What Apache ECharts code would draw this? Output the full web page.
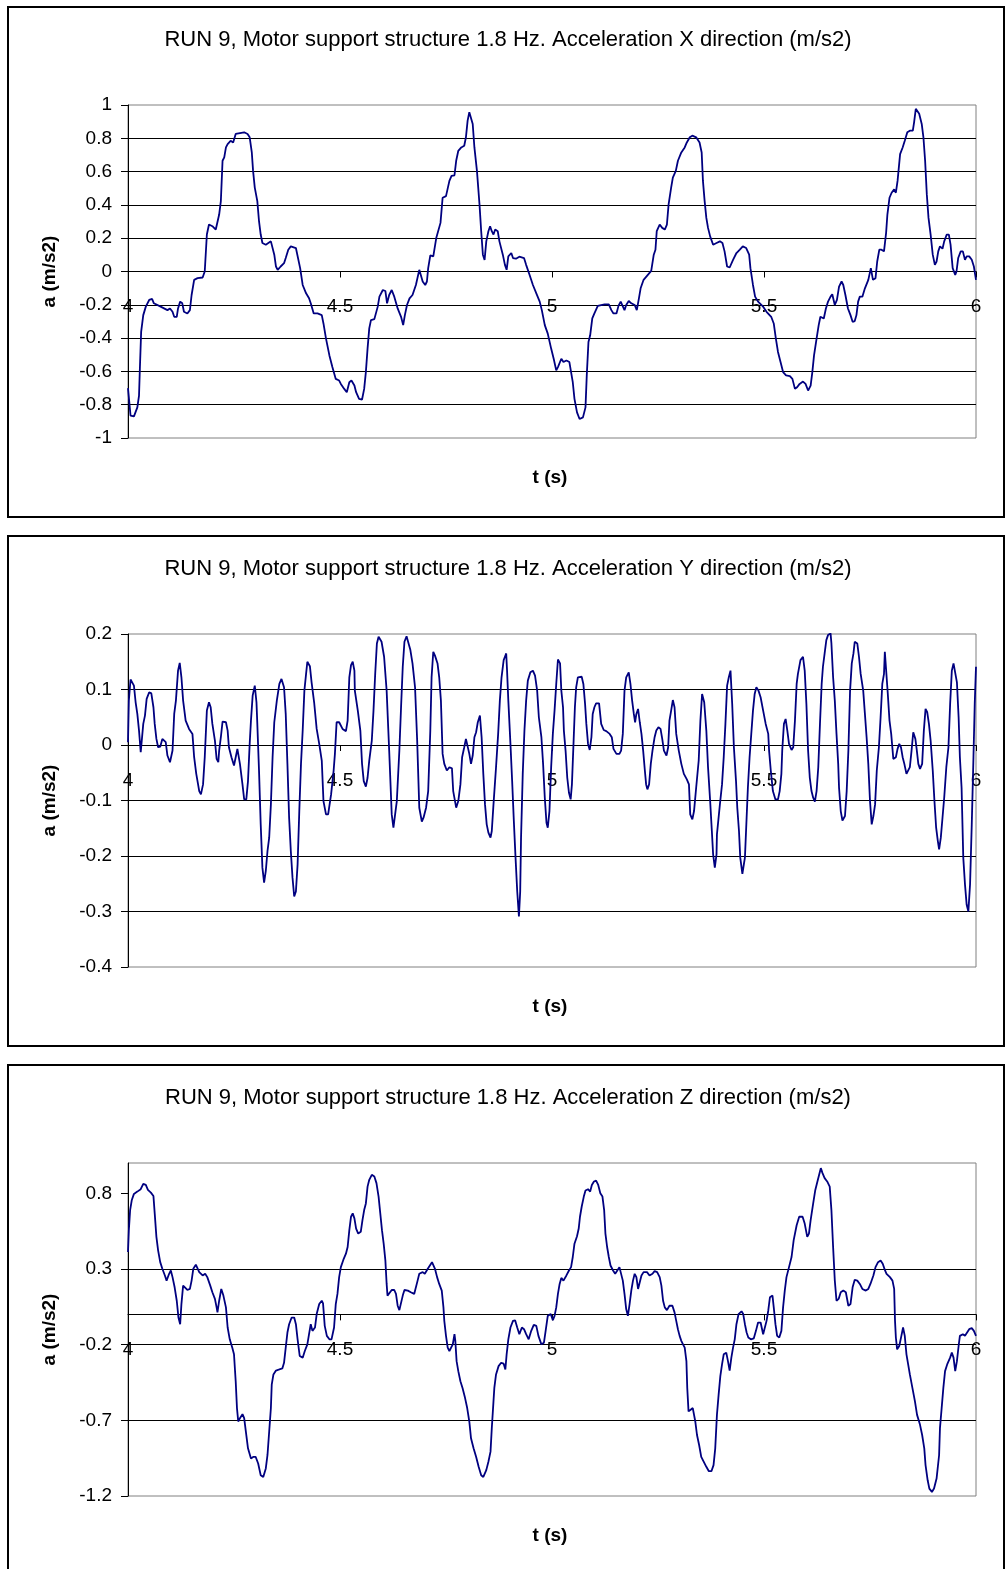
<!DOCTYPE html>
<html>
<head>
<meta charset="utf-8">
<script src="https://cdn.jsdelivr.net/npm/echarts@6/dist/echarts.min.js"></script>
<style>
html,body{margin:0;padding:0;background:#fff;}
#c{width:1005px;height:1569px;}
</style>
</head>
<body>
<div id="c"></div>
<script>
// ---- data: [time (s), acceleration (m/s2)] ----
const accX = [
[4.000,-0.70],[4.006,-0.866],[4.014,-0.870],[4.022,-0.816],[4.026,-0.745],[4.028,-0.584],[4.031,-0.363],[4.036,-0.262],[4.042,-0.211],[4.050,-0.171],[4.057,-0.165],[4.061,-0.191],[4.077,-0.211],[4.093,-0.232],[4.099,-0.222],[4.105,-0.242],[4.109,-0.272],[4.115,-0.272],[4.118,-0.222],[4.123,-0.181],[4.128,-0.191],[4.132,-0.242],[4.140,-0.252],[4.146,-0.232],[4.150,-0.141],[4.156,-0.050],[4.164,-0.040],[4.176,-0.036],[4.181,0.000],[4.186,0.222],[4.191,0.282],[4.199,0.272],[4.207,0.252],[4.211,0.262],[4.215,0.342],[4.219,0.423],[4.223,0.665],[4.227,0.685],[4.231,0.745],[4.235,0.765],[4.242,0.785],[4.248,0.775],[4.250,0.765],[4.254,0.826],[4.258,0.836],[4.274,0.836],[4.282,0.826],[4.287,0.806],[4.292,0.715],[4.295,0.604],[4.299,0.504],[4.305,0.423],[4.309,0.302],[4.313,0.222],[4.317,0.171],[4.325,0.161],[4.337,0.181],[4.341,0.187],[4.345,0.101],[4.349,0.030],[4.353,0.010],[4.360,0.030],[4.368,0.050],[4.372,0.081],[4.378,0.131],[4.384,0.151],[4.396,0.141],[4.400,0.131],[4.406,0.020],[4.412,-0.081],[4.420,-0.131],[4.427,-0.161],[4.431,-0.191],[4.438,-0.252],[4.447,-0.252],[4.457,-0.262],[4.461,-0.312],[4.467,-0.403],[4.475,-0.504],[4.482,-0.574],[4.490,-0.645],[4.498,-0.655],
[4.502,-0.675],[4.510,-0.705],[4.516,-0.725],[4.522,-0.665],[4.527,-0.655],[4.534,-0.685],[4.538,-0.725],[4.545,-0.765],[4.552,-0.769],[4.557,-0.705],[4.561,-0.604],[4.565,-0.463],[4.569,-0.342],[4.573,-0.292],[4.581,-0.286],[4.589,-0.211],[4.593,-0.151],[4.601,-0.111],[4.607,-0.117],[4.611,-0.191],[4.616,-0.141],[4.622,-0.111],[4.628,-0.151],[4.636,-0.222],[4.644,-0.272],[4.649,-0.322],[4.653,-0.262],[4.658,-0.201],[4.664,-0.161],[4.671,-0.141],[4.679,-0.081],[4.687,0.010],[4.691,0.020],[4.695,-0.060],[4.701,-0.081],[4.705,-0.060],[4.708,0.020],[4.713,0.097],[4.720,0.091],[4.727,0.201],[4.737,0.292],[4.742,0.443],[4.750,0.453],[4.754,0.463],[4.758,0.544],[4.763,0.574],[4.770,0.578],[4.774,0.665],[4.779,0.725],[4.786,0.745],[4.793,0.755],[4.797,0.806],[4.801,0.906],[4.805,0.957],[4.809,0.957],[4.813,0.886],[4.817,0.745],[4.823,0.604],[4.829,0.403],[4.833,0.242],[4.837,0.101],[4.841,0.070],[4.845,0.181],[4.850,0.242],[4.854,0.272],[4.858,0.242],[4.862,0.222],[4.866,0.252],[4.872,0.242],[4.876,0.181],[4.884,0.101],[4.889,0.040],[4.893,0.010],[4.897,0.091],[4.904,0.111],[4.908,0.081],[4.915,0.077],[4.923,0.089],[4.934,0.081],[4.939,0.040],[4.947,-0.020],[4.955,-0.081],[4.963,-0.131],[4.971,-0.181],[4.976,-0.232],[4.983,-0.322],[4.990,-0.373],[4.998,-0.463],
[5.004,-0.524],[5.010,-0.594],[5.014,-0.574],[5.022,-0.524],[5.027,-0.544],[5.034,-0.534],[5.041,-0.544],[5.045,-0.604],[5.049,-0.665],[5.053,-0.765],[5.059,-0.846],[5.065,-0.886],[5.073,-0.876],[5.079,-0.816],[5.082,-0.624],[5.086,-0.423],[5.090,-0.383],[5.095,-0.282],[5.100,-0.252],[5.108,-0.207],[5.112,-0.197],[5.124,-0.197],[5.134,-0.197],[5.140,-0.232],[5.145,-0.252],[5.152,-0.252],[5.157,-0.205],[5.162,-0.181],[5.166,-0.191],[5.171,-0.232],[5.175,-0.201],[5.181,-0.177],[5.187,-0.191],[5.195,-0.201],[5.200,-0.232],[5.205,-0.161],[5.209,-0.101],[5.216,-0.050],[5.226,-0.020],[5.234,0.004],[5.240,0.101],[5.244,0.131],[5.247,0.242],[5.254,0.282],[5.260,0.262],[5.266,0.252],[5.271,0.282],[5.275,0.403],[5.281,0.504],[5.285,0.564],[5.292,0.604],[5.297,0.665],[5.305,0.715],[5.313,0.745],[5.318,0.775],[5.325,0.806],[5.331,0.816],[5.340,0.806],[5.348,0.775],[5.353,0.715],[5.356,0.544],[5.360,0.423],[5.364,0.322],[5.368,0.262],[5.373,0.211],[5.380,0.161],[5.388,0.171],[5.396,0.181],[5.402,0.171],[5.407,0.121],[5.413,0.030],[5.419,0.024],[5.427,0.070],[5.435,0.111],[5.443,0.131],[5.450,0.151],[5.458,0.141],[5.465,0.101],[5.468,0.020],[5.474,-0.081],[5.479,-0.151],[5.486,-0.181],
[5.498,-0.211],[5.506,-0.242],[5.517,-0.272],[5.523,-0.312],[5.528,-0.403],[5.533,-0.483],[5.539,-0.544],[5.545,-0.604],[5.552,-0.624],[5.561,-0.628],[5.567,-0.645],[5.573,-0.705],[5.578,-0.695],[5.584,-0.675],[5.592,-0.661],[5.598,-0.675],[5.604,-0.715],[5.610,-0.685],[5.614,-0.604],[5.618,-0.504],[5.624,-0.403],[5.629,-0.322],[5.633,-0.272],[5.641,-0.282],[5.646,-0.222],[5.651,-0.181],[5.657,-0.151],[5.661,-0.137],[5.667,-0.201],[5.672,-0.171],[5.677,-0.091],[5.683,-0.060],[5.687,-0.081],[5.692,-0.141],[5.698,-0.222],[5.704,-0.262],[5.709,-0.302],[5.714,-0.298],[5.718,-0.262],[5.722,-0.181],[5.726,-0.151],[5.732,-0.151],[5.738,-0.101],[5.746,-0.050],[5.752,0.020],[5.757,-0.050],[5.763,-0.040],[5.767,0.060],[5.772,0.131],[5.777,0.131],[5.783,0.121],[5.788,0.232],[5.791,0.342],[5.796,0.443],[5.801,0.473],[5.807,0.493],[5.811,0.473],[5.815,0.544],[5.821,0.705],[5.827,0.745],[5.832,0.785],[5.838,0.836],[5.844,0.846],[5.851,0.846],[5.854,0.896],[5.858,0.977],[5.862,0.983],[5.866,0.947],[5.872,0.886],[5.876,0.806],[5.880,0.665],[5.884,0.463],[5.888,0.322],[5.893,0.222],[5.898,0.101],[5.903,0.040],[5.907,0.060],[5.911,0.121],[5.915,0.151],[5.921,0.137],[5.925,0.181],[5.931,0.222],[5.936,0.222],[5.940,0.161],[5.945,0.020],[5.951,-0.020],[5.954,0.000],[5.958,0.081],[5.964,0.121],[5.969,0.121],[5.974,0.070],[5.978,0.091],[5.984,0.091],[5.990,0.070],[5.995,0.030],[6.000,-0.050]
];
const accY = [
[4.000,0.005],[4.002,0.080],[4.006,0.118],[4.010,0.116],[4.014,0.107],[4.018,0.077],[4.022,0.056],[4.026,0.026],[4.030,-0.013],[4.032,-0.016],[4.036,0.038],[4.040,0.053],[4.044,0.083],[4.050,0.095],[4.055,0.093],[4.060,0.068],[4.063,0.038],[4.067,0.011],[4.071,-0.004],[4.076,-0.003],[4.081,0.011],[4.085,0.012],[4.089,0.005],[4.093,-0.019],[4.099,-0.031],[4.105,-0.010],[4.109,0.056],[4.113,0.080],[4.118,0.134],[4.122,0.148],[4.126,0.122],[4.130,0.080],[4.136,0.044],[4.144,0.029],[4.152,0.020],[4.156,-0.022],[4.161,-0.052],[4.168,-0.083],[4.172,-0.089],[4.177,-0.071],[4.181,-0.022],[4.186,0.062],[4.191,0.077],[4.195,0.068],[4.199,0.038],[4.205,0.008],[4.209,-0.025],[4.213,-0.031],[4.215,-0.010],[4.219,0.014],[4.223,0.042],[4.231,0.041],[4.235,0.026],[4.238,-0.004],[4.244,-0.022],[4.250,-0.037],[4.254,-0.022],[4.258,-0.007],[4.262,-0.009],[4.264,-0.034],[4.270,-0.071],[4.274,-0.098],[4.279,-0.098],[4.283,-0.065],[4.287,0.002],[4.290,0.044],[4.294,0.089],[4.299,0.107],[4.303,0.077],[4.305,0.038],[4.309,-0.046],[4.313,-0.143],[4.317,-0.221],[4.321,-0.248],[4.325,-0.227],[4.329,-0.191],[4.333,-0.167],[4.337,-0.107],[4.341,-0.022],[4.345,0.041],[4.351,0.080],[4.357,0.110],[4.362,0.119],[4.368,0.104],[4.372,0.056],[4.376,-0.034],[4.380,-0.131],[4.384,-0.191],[4.388,-0.239],[4.392,-0.273],[4.396,-0.264],[4.400,-0.215],[4.404,-0.119],[4.408,-0.034],[4.412,0.026],[4.416,0.098],[4.420,0.128],[4.423,0.150],[4.429,0.142],[4.433,0.113],[4.439,0.077],[4.445,0.029],[4.451,0.002],[4.457,-0.028],[4.461,-0.101],[4.467,-0.125],[4.472,-0.125],[4.479,-0.089],[4.485,-0.046],[4.488,-0.016],[4.492,0.041],[4.498,0.041],
[4.501,0.038],[4.506,0.029],[4.514,0.025],[4.518,0.044],[4.522,0.122],[4.526,0.144],[4.530,0.150],[4.534,0.134],[4.535,0.098],[4.542,0.062],[4.548,0.026],[4.552,-0.034],[4.556,-0.065],[4.561,-0.075],[4.565,-0.059],[4.569,-0.028],[4.575,0.008],[4.579,0.062],[4.583,0.128],[4.587,0.183],[4.591,0.195],[4.594,0.198],[4.598,0.186],[4.604,0.159],[4.610,0.098],[4.616,-0.010],[4.622,-0.125],[4.626,-0.149],[4.630,-0.149],[4.634,-0.101],[4.640,-0.010],[4.644,0.068],[4.648,0.141],[4.652,0.186],[4.657,0.196],[4.661,0.195],[4.666,0.171],[4.671,0.147],[4.677,0.104],[4.682,0.008],[4.687,-0.113],[4.693,-0.138],[4.697,-0.131],[4.703,-0.113],[4.708,-0.083],[4.713,0.026],[4.716,0.122],[4.720,0.168],[4.724,0.161],[4.730,0.147],[4.734,0.122],[4.738,0.080],[4.742,-0.016],[4.746,-0.034],[4.752,-0.046],[4.758,-0.040],[4.764,-0.042],[4.767,-0.083],[4.774,-0.113],[4.779,-0.101],[4.784,-0.071],[4.788,-0.022],[4.793,-0.004],[4.797,0.011],[4.801,0.011],[4.805,-0.016],[4.809,-0.034],[4.813,-0.019],[4.817,0.014],[4.821,0.023],[4.825,0.041],[4.830,0.053],[4.834,0.014],[4.838,-0.052],[4.842,-0.107],[4.846,-0.143],[4.850,-0.158],[4.855,-0.167],[4.858,-0.155],[4.862,-0.107],[4.868,-0.040],[4.873,0.020],[4.877,0.080],[4.881,0.122],[4.886,0.153],[4.889,0.159],[4.892,0.165],[4.894,0.134],[4.897,0.080],[4.902,0.002],[4.906,-0.065],[4.910,-0.137],[4.914,-0.203],[4.918,-0.264],[4.922,-0.309],[4.925,-0.264],[4.927,-0.167],[4.931,-0.052],[4.935,0.026],[4.939,0.080],[4.943,0.116],[4.949,0.131],[4.955,0.134],[4.960,0.125],[4.965,0.098],[4.969,0.050],[4.975,0.014],[4.979,-0.034],[4.983,-0.095],[4.987,-0.140],[4.990,-0.149],[4.994,-0.119],[4.998,-0.040],
[5.002,0.020],[5.006,0.062],[5.010,0.110],[5.014,0.154],[5.019,0.147],[5.022,0.098],[5.026,0.068],[5.028,0.026],[5.032,-0.010],[5.036,-0.059],[5.040,-0.086],[5.044,-0.098],[5.047,-0.071],[5.051,0.008],[5.054,0.068],[5.057,0.104],[5.061,0.122],[5.065,0.125],[5.070,0.123],[5.074,0.110],[5.078,0.074],[5.081,0.038],[5.085,0.002],[5.089,-0.009],[5.093,0.014],[5.096,0.056],[5.100,0.068],[5.104,0.075],[5.111,0.075],[5.116,0.038],[5.122,0.027],[5.128,0.025],[5.136,0.020],[5.141,0.014],[5.145,-0.007],[5.152,-0.016],[5.159,-0.016],[5.163,-0.010],[5.167,0.020],[5.171,0.098],[5.175,0.122],[5.181,0.131],[5.185,0.110],[5.189,0.080],[5.193,0.056],[5.196,0.041],[5.199,0.056],[5.203,0.065],[5.207,0.041],[5.211,0.020],[5.215,-0.010],[5.219,-0.046],[5.222,-0.071],[5.225,-0.080],[5.229,-0.071],[5.233,-0.034],[5.237,-0.010],[5.242,0.014],[5.246,0.026],[5.251,0.032],[5.256,0.029],[5.260,0.011],[5.264,-0.010],[5.270,-0.019],[5.274,-0.004],[5.277,0.044],[5.281,0.062],[5.285,0.081],[5.289,0.068],[5.293,0.020],[5.299,-0.010],[5.305,-0.034],[5.311,-0.052],[5.318,-0.062],[5.323,-0.071],[5.326,-0.125],[5.331,-0.134],[5.335,-0.119],[5.340,-0.077],[5.346,-0.028],[5.350,0.044],[5.354,0.092],[5.359,0.077],[5.364,0.026],[5.368,-0.040],[5.373,-0.101],[5.377,-0.155],[5.380,-0.197],[5.384,-0.221],[5.388,-0.197],[5.389,-0.161],[5.396,-0.107],[5.401,-0.071],[5.405,-0.022],[5.409,0.038],[5.413,0.107],[5.417,0.122],[5.421,0.134],[5.425,0.074],[5.429,-0.004],[5.434,-0.065],[5.437,-0.113],[5.441,-0.155],[5.444,-0.203],[5.449,-0.232],[5.455,-0.203],[5.459,-0.131],[5.462,-0.077],[5.466,-0.022],[5.470,0.020],[5.474,0.062],[5.478,0.092],[5.482,0.104],[5.487,0.098],[5.492,0.086],
[5.498,0.062],[5.504,0.038],[5.510,0.020],[5.512,-0.010],[5.516,-0.046],[5.521,-0.083],[5.527,-0.098],[5.533,-0.098],[5.537,-0.083],[5.541,-0.052],[5.543,-0.010],[5.547,0.038],[5.551,0.047],[5.555,0.026],[5.559,0.002],[5.565,-0.009],[5.569,-0.004],[5.573,0.044],[5.577,0.110],[5.580,0.128],[5.586,0.153],[5.592,0.159],[5.596,0.134],[5.600,0.074],[5.604,-0.010],[5.608,-0.059],[5.612,-0.083],[5.616,-0.095],[5.620,-0.102],[5.624,-0.083],[5.628,-0.040],[5.632,0.038],[5.636,0.110],[5.639,0.141],[5.643,0.165],[5.647,0.189],[5.651,0.198],[5.657,0.201],[5.659,0.183],[5.663,0.122],[5.667,0.080],[5.671,0.020],[5.675,-0.034],[5.677,-0.077],[5.681,-0.119],[5.685,-0.136],[5.691,-0.128],[5.695,-0.083],[5.699,-0.010],[5.703,0.098],[5.707,0.147],[5.711,0.165],[5.714,0.186],[5.720,0.183],[5.724,0.159],[5.728,0.128],[5.734,0.098],[5.738,0.056],[5.742,0.014],[5.746,-0.034],[5.750,-0.101],[5.754,-0.143],[5.758,-0.128],[5.762,-0.107],[5.766,-0.046],[5.771,-0.004],[5.775,0.050],[5.779,0.110],[5.783,0.128],[5.785,0.168],[5.788,0.165],[5.792,0.092],[5.796,0.044],[5.800,0.020],[5.803,-0.007],[5.805,-0.025],[5.811,-0.022],[5.815,-0.007],[5.819,0.002],[5.823,-0.004],[5.827,-0.022],[5.831,-0.034],[5.836,-0.052],[5.840,-0.055],[5.844,-0.040],[5.848,-0.010],[5.852,0.023],[5.857,0.011],[5.860,-0.007],[5.864,-0.034],[5.868,-0.043],[5.873,-0.034],[5.877,0.026],[5.881,0.065],[5.885,0.059],[5.889,0.038],[5.893,0.008],[5.898,-0.046],[5.902,-0.101],[5.906,-0.149],[5.910,-0.173],[5.913,-0.188],[5.917,-0.167],[5.921,-0.131],[5.925,-0.095],[5.930,-0.040],[5.935,-0.004],[5.939,0.074],[5.943,0.134],[5.947,0.147],[5.951,0.150],[5.955,0.113],[5.959,0.050],[5.962,-0.022],[5.966,-0.077],[5.970,-0.203],[5.974,-0.251],[5.978,-0.288],[5.982,-0.300],[5.986,-0.251],[5.990,-0.143],[5.994,-0.022],[5.997,0.074],[6.000,0.141]
];
const accZ = [
[4.000,0.412],[4.002,0.556],[4.005,0.689],[4.009,0.756],[4.014,0.796],[4.022,0.811],[4.030,0.827],[4.036,0.862],[4.042,0.855],[4.047,0.822],[4.054,0.804],[4.060,0.782],[4.063,0.667],[4.067,0.512],[4.071,0.423],[4.076,0.345],[4.081,0.301],[4.087,0.257],[4.091,0.223],[4.097,0.268],[4.101,0.290],[4.105,0.246],[4.110,0.179],[4.115,0.090],[4.119,-0.021],[4.123,-0.065],[4.126,0.068],[4.130,0.190],[4.134,0.197],[4.140,0.161],[4.146,0.168],[4.150,0.223],[4.154,0.301],[4.160,0.328],[4.164,0.323],[4.168,0.279],[4.176,0.257],[4.182,0.268],[4.187,0.246],[4.194,0.190],[4.199,0.146],[4.205,0.102],[4.209,0.046],[4.211,0.013],[4.215,0.090],[4.220,0.168],[4.225,0.124],[4.231,0.046],[4.235,-0.087],[4.240,-0.165],[4.246,-0.220],[4.250,-0.264],[4.254,-0.442],[4.257,-0.619],[4.260,-0.708],[4.264,-0.686],[4.270,-0.659],[4.274,-0.686],[4.278,-0.774],[4.283,-0.885],[4.290,-0.952],[4.296,-0.941],[4.301,-0.941],[4.307,-0.985],[4.313,-1.063],[4.319,-1.074],[4.325,-1.018],[4.329,-0.929],[4.333,-0.774],[4.337,-0.619],[4.339,-0.464],[4.343,-0.397],[4.349,-0.371],[4.357,-0.364],[4.364,-0.357],[4.368,-0.320],[4.372,-0.220],[4.376,-0.120],[4.380,-0.065],[4.386,-0.021],[4.392,-0.021],[4.396,-0.065],[4.400,-0.165],[4.405,-0.275],[4.412,-0.286],[4.417,-0.242],[4.423,-0.198],[4.427,-0.131],[4.431,-0.065],[4.435,-0.109],[4.441,-0.087],[4.445,0.002],[4.451,0.068],[4.457,0.090],[4.460,0.073],[4.464,-0.076],[4.469,-0.142],[4.475,-0.165],[4.480,-0.165],[4.486,-0.087],[4.490,0.068],
[4.494,0.135],[4.498,0.246],[4.502,0.312],[4.508,0.361],[4.514,0.401],[4.518,0.445],[4.522,0.556],[4.526,0.645],[4.530,0.667],[4.534,0.634],[4.538,0.567],[4.543,0.534],[4.549,0.545],[4.553,0.623],[4.557,0.689],[4.561,0.733],[4.565,0.844],[4.569,0.889],[4.575,0.922],[4.581,0.911],[4.586,0.867],[4.591,0.778],[4.595,0.667],[4.599,0.556],[4.603,0.467],[4.607,0.357],[4.610,0.201],[4.612,0.124],[4.616,0.135],[4.622,0.161],[4.628,0.161],[4.632,0.135],[4.636,0.057],[4.640,0.028],[4.644,0.035],[4.648,0.124],[4.652,0.161],[4.660,0.157],[4.667,0.146],[4.675,0.135],[4.679,0.124],[4.683,0.223],[4.687,0.268],[4.695,0.279],[4.700,0.268],[4.707,0.301],[4.712,0.323],[4.717,0.345],[4.720,0.345],[4.724,0.301],[4.729,0.246],[4.734,0.201],[4.740,0.157],[4.744,0.046],[4.746,-0.043],[4.750,-0.142],[4.754,-0.220],[4.758,-0.242],[4.762,-0.237],[4.766,-0.198],[4.770,-0.131],[4.772,-0.175],[4.775,-0.309],[4.779,-0.375],[4.784,-0.442],[4.789,-0.486],[4.795,-0.553],[4.800,-0.619],[4.805,-0.708],[4.809,-0.819],[4.815,-0.885],[4.821,-0.941],[4.827,-1.007],[4.833,-1.063],[4.838,-1.074],[4.845,-1.029],[4.850,-0.974],[4.855,-0.907],[4.858,-0.752],[4.862,-0.575],[4.864,-0.486],[4.868,-0.397],[4.874,-0.342],[4.880,-0.320],[4.886,-0.326],[4.890,-0.364],[4.893,-0.264],[4.897,-0.165],[4.902,-0.087],[4.908,-0.043],[4.913,-0.039],[4.918,-0.087],[4.923,-0.131],[4.929,-0.087],[4.934,-0.098],[4.939,-0.131],[4.945,-0.165],[4.951,-0.109],[4.957,-0.069],[4.963,-0.076],[4.968,-0.142],[4.975,-0.198],[4.981,-0.187],[4.985,-0.109],[4.990,-0.010],[4.997,0.002],
[5.002,-0.039],[5.006,-0.010],[5.010,0.046],[5.014,0.135],[5.018,0.201],[5.022,0.241],[5.027,0.223],[5.034,0.257],[5.040,0.290],[5.045,0.312],[5.049,0.379],[5.053,0.467],[5.059,0.516],[5.063,0.567],[5.066,0.645],[5.070,0.711],[5.075,0.778],[5.079,0.818],[5.085,0.827],[5.090,0.811],[5.094,0.855],[5.099,0.878],[5.104,0.884],[5.109,0.855],[5.114,0.800],[5.119,0.778],[5.123,0.689],[5.126,0.534],[5.130,0.445],[5.134,0.379],[5.138,0.323],[5.144,0.290],[5.149,0.268],[5.154,0.290],[5.159,0.312],[5.163,0.301],[5.167,0.223],[5.171,0.135],[5.175,0.035],[5.179,-0.010],[5.183,0.068],[5.187,0.157],[5.191,0.223],[5.195,0.268],[5.199,0.246],[5.203,0.168],[5.207,0.212],[5.211,0.257],[5.216,0.279],[5.224,0.279],[5.230,0.257],[5.237,0.268],[5.242,0.286],[5.248,0.279],[5.254,0.246],[5.258,0.190],[5.262,0.090],[5.266,0.046],[5.271,0.028],[5.277,0.057],[5.284,0.057],[5.289,0.013],[5.293,-0.043],[5.297,-0.098],[5.301,-0.142],[5.305,-0.175],[5.309,-0.198],[5.313,-0.220],[5.317,-0.309],[5.319,-0.486],[5.322,-0.641],[5.327,-0.630],[5.332,-0.619],[5.338,-0.708],[5.342,-0.797],[5.347,-0.863],[5.352,-0.941],[5.358,-0.974],[5.364,-1.007],[5.370,-1.036],[5.376,-1.036],[5.381,-0.996],[5.385,-0.885],[5.389,-0.664],[5.393,-0.530],[5.397,-0.408],[5.401,-0.331],[5.405,-0.264],[5.411,-0.253],[5.415,-0.309],[5.419,-0.371],[5.423,-0.286],[5.427,-0.220],[5.431,-0.165],[5.435,-0.065],[5.440,0.002],[5.447,0.020],[5.451,0.002],[5.455,-0.065],[5.459,-0.120],[5.463,-0.153],[5.469,-0.165],[5.476,-0.158],[5.481,-0.109],[5.486,-0.054],[5.492,-0.054],
[5.498,-0.131],[5.502,-0.120],[5.506,-0.043],[5.510,0.024],[5.514,0.113],[5.520,0.124],[5.523,0.046],[5.527,-0.065],[5.531,-0.142],[5.536,-0.153],[5.541,-0.109],[5.545,0.046],[5.549,0.157],[5.553,0.246],[5.559,0.312],[5.565,0.379],[5.570,0.490],[5.577,0.589],[5.583,0.645],[5.591,0.645],[5.596,0.600],[5.602,0.512],[5.606,0.534],[5.610,0.623],[5.616,0.733],[5.621,0.822],[5.626,0.878],[5.632,0.944],[5.634,0.966],[5.638,0.933],[5.643,0.900],[5.649,0.878],[5.655,0.844],[5.659,0.689],[5.663,0.445],[5.667,0.223],[5.671,0.090],[5.676,0.102],[5.681,0.146],[5.687,0.157],[5.693,0.146],[5.699,0.057],[5.704,0.068],[5.709,0.179],[5.714,0.228],[5.720,0.223],[5.726,0.201],[5.732,0.168],[5.740,0.157],[5.746,0.168],[5.751,0.201],[5.758,0.257],[5.763,0.312],[5.769,0.345],[5.775,0.356],[5.780,0.334],[5.785,0.294],[5.789,0.268],[5.797,0.246],[5.803,0.223],[5.807,0.168],[5.809,-0.043],[5.811,-0.153],[5.814,-0.231],[5.819,-0.209],[5.824,-0.142],[5.828,-0.087],[5.832,-0.142],[5.836,-0.264],[5.840,-0.331],[5.844,-0.397],[5.850,-0.486],[5.856,-0.575],[5.861,-0.664],[5.868,-0.730],[5.873,-0.797],[5.878,-0.885],[5.881,-0.996],[5.886,-1.096],[5.890,-1.151],[5.896,-1.173],[5.901,-1.151],[5.907,-1.085],[5.913,-0.929],[5.915,-0.752],[5.919,-0.619],[5.923,-0.486],[5.927,-0.375],[5.932,-0.331],[5.939,-0.286],[5.943,-0.253],[5.947,-0.286],[5.951,-0.375],[5.955,-0.309],[5.959,-0.209],[5.962,-0.142],[5.969,-0.131],[5.974,-0.142],[5.978,-0.131],[5.984,-0.098],[5.990,-0.091],[5.995,-0.109],[6.000,-0.142]
];
const titles = [
  'RUN 9, Motor support structure 1.8 Hz. Acceleration X direction (m/s2)',
  'RUN 9, Motor support structure 1.8 Hz. Acceleration Y direction (m/s2)',
  'RUN 9, Motor support structure 1.8 Hz. Acceleration Z direction (m/s2)'
];
const xRange = [4, 6];
const xStep = 0.5;
const yRanges = [[-1, 1], [-0.4, 0.2], [-1.2, 1.0]];
const ySteps = [0.2, 0.1, null];
const yTicksZ = [-1.2, -0.7, -0.2, 0.3, 0.8];
const xName = 't (s)';
const yName = 'a (m/s2)';

// ---- layout ----
const FONT = '"Liberation Sans", Arial, sans-serif';
const panelTop = [7, 536, 1065];
const plotTop = [105, 634, 1163];
const plotH = 333;
const plotLeft = 128, plotW = 848;

const chart = echarts.init(document.getElementById('c'), null, {renderer: 'canvas'});

const grids = plotTop.map(t => ({
  left: plotLeft, top: t, width: plotW, height: plotH,
  show: true, borderColor: '#808080', borderWidth: 1, backgroundColor: 'transparent'
}));

// x axis crosses the y axis at 0: shift it up from the grid bottom by the
// distance of the zero value from the minimum on the y scale
const xAxes = [0,1,2].map(i => {
  const r = yRanges[i];
  const zeroShift = plotH * (0 - r[0]) / (r[1] - r[0]);
  return {
    type: 'value', gridIndex: i, min: xRange[0], max: xRange[1], interval: xStep,
    offset: -zeroShift,
    axisLine: {onZero: false, lineStyle: {color: '#000', width: 1}},
    axisTick: {show: true, length: 6, lineStyle: {color: '#000'}},
    axisLabel: {color: '#000', fontSize: 19, fontFamily: FONT, margin: 26},
    splitLine: {show: false},
    z: 3
  };
});

const yBase = {
  type: 'value',
  axisLine: {show: true, onZero: false, lineStyle: {color: '#000', width: 1}},
  axisTick: {show: true, length: 7, lineStyle: {color: '#000'}},
  axisLabel: {color: '#000', fontSize: 19, fontFamily: FONT, margin: 16},
  splitLine: {show: true, showMinLine: false, showMaxLine: false, lineStyle: {color: '#000', width: 1}}
};
const yAxes = [0,1,2].map(i => {
  const ax = Object.assign({}, yBase, {gridIndex: i, min: yRanges[i][0], max: yRanges[i][1]});
  if (ySteps[i]) {
    ax.interval = ySteps[i];
  } else {
    ax.axisTick = Object.assign({}, yBase.axisTick, {customValues: yTicksZ});
    ax.axisLabel = Object.assign({}, yBase.axisLabel, {customValues: yTicksZ});
  }
  return ax;
});

const seriesData = [accX, accY, accZ];
const series = seriesData.map((d, i) => ({
  type: 'line', xAxisIndex: i, yAxisIndex: i, data: d,
  showSymbol: false, symbol: 'none', smooth: false, animation: false,
  lineStyle: {color: '#000080', width: 1.8}, z: 5
}));

const graphics = [];
panelTop.forEach((pt, i) => {
  graphics.push({type: 'rect', shape: {x: 8, y: pt, width: 996, height: 510},
    style: {fill: 'none', stroke: '#000', lineWidth: 2}, silent: true, z: 0});
  graphics.push({type: 'text', style: {text: titles[i], x: 508, y: pt + 33,
    textAlign: 'center', textVerticalAlign: 'middle', fill: '#000', font: '22px ' + FONT}});
  graphics.push({type: 'text', style: {text: xName, x: 550, y: pt + 471,
    textAlign: 'center', textVerticalAlign: 'middle', fill: '#000', font: 'bold 19px ' + FONT}});
  graphics.push({type: 'text', rotation: Math.PI / 2, x: 50, y: plotTop[i] + plotH / 2,
    style: {text: yName, x: 0, y: 0, textAlign: 'center', textVerticalAlign: 'middle',
    fill: '#000', font: 'bold 19px ' + FONT}});
});

chart.setOption({
  animation: false,
  backgroundColor: '#fff',
  grid: grids,
  xAxis: xAxes,
  yAxis: yAxes,
  series: series,
  graphic: graphics
});
</script>
</body>
</html>
